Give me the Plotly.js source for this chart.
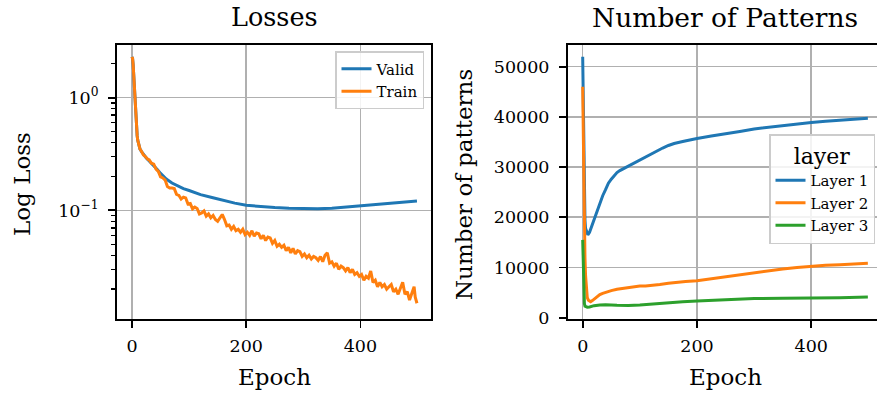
<!DOCTYPE html>
<html><head><meta charset="utf-8">
<script src="https://cdn.plot.ly/plotly-3.0.1.min.js"></script>
<style>html,body{margin:0;padding:0;background:#fff}</style>
</head><body><div id="chart" style="width:877px;height:396px"></div>
<script>
// ---- Left panel: losses ----
const validEpoch = [0,1,2,3,4,5,6,7,8,9,10,12,14,17,20,25,30,35,40,45,50,60,70,80,90,100,120,140,160,180,200,225,250,275,300,325,350,375,400,425,450,475,499];
const validLoss  = [2.3,2.22,1.95,1.55,1.22,0.98,0.79,0.64,0.53,0.46,0.42,0.375,0.35,0.33,0.312,0.292,0.275,0.26,0.245,0.228,0.213,0.19,0.175,0.164,0.156,0.15,0.138,0.13,0.122,0.116,0.111,0.108,0.106,0.1045,0.1035,0.1035,0.1045,0.107,0.11,0.113,0.116,0.119,0.121];

const trainEpoch = [0,1,2,3,4,5,6,7,8,9,10,12,14,16,18,20,22,24,26,28,
  30,34,38,42,46,50,54,58,62,66,70,74,78,82,86,90,94,98,102,106,110,114,118,122,126,130,134,138,142,146,150,154,158,162,166,170,174,178,182,186,190,194,198,
  202,206,210,214,218,222,226,230,234,238,242,246,250,254,258,262,266,270,274,278,282,286,290,294,298,
  302,306,310,314,318,322,326,330,334,338,342,346,350,354,358,362,366,370,374,378,382,386,390,394,398,
  402,406,410,414,418,422,426,430,434,438,442,446,450,454,458,462,466,470,474,478,482,486,490,494,496,498,499];
const trainLoss = [2.3,2.22,1.95,1.55,1.22,0.98,0.79,0.64,0.53,0.46,0.42,0.375,0.35,0.338,0.322,0.31,0.305,0.296,0.292,0.283,
  0.281,0.262,0.257,0.232,0.222,0.198,0.194,0.186,0.163,0.158,0.158,0.156,0.139,0.136,0.126,0.131,0.129,0.114,0.115,0.103,0.107,0.104,0.093,0.095,0.099,0.089,0.093,0.086,0.090,0.083,0.080,0.085,0.092,0.083,0.073,0.074,0.068,0.072,0.066,0.068,0.064,0.068,0.061,
  0.064,0.060,0.066,0.059,0.063,0.062,0.056,0.060,0.054,0.058,0.057,0.051,0.054,0.048,0.050,0.047,0.049,0.044,0.047,0.042,0.046,0.041,0.044,0.043,0.039,
  0.041,0.038,0.040,0.037,0.039,0.038,0.036,0.039,0.035,0.040,0.042,0.034,0.035,0.032,0.034,0.030,0.032,0.031,0.029,0.031,0.028,0.030,0.027,0.028,0.026,
  0.027,0.024,0.026,0.025,0.029,0.023,0.024,0.021,0.023,0.021,0.022,0.020,0.021,0.022,0.019,0.020,0.018,0.020,0.023,0.018,0.019,0.016,0.018,0.021,0.017,0.0155,0.015];

// ---- Right panel: number of patterns ----
const l1Epoch = [0,1,2,3,4,5,7,9,12,16,20,25,30,35,40,45,50,55,60,65,70,80,90,100,110,120,130,140,150,160,175,190,200,225,250,275,300,325,350,375,400,425,450,475,499];
const l1Count = [52000,42000,30000,23000,19500,17800,16900,16500,17000,18300,19700,21500,23000,24300,25500,26800,27600,28300,28900,29300,29600,30200,30900,31500,32100,32700,33300,33800,34300,34700,35100,35500,35700,36200,36600,37100,37600,37950,38300,38600,38900,39150,39400,39600,39750];
const l2Epoch = [0,1,2,3,4,5,6,7,8,10,12,14,17,20,25,30,35,40,50,60,70,80,90,100,110,120,135,150,165,180,200,225,250,275,300,325,350,375,400,425,450,475,499];
const l2Count = [46000,35000,25000,17000,12000,8500,6000,4800,4000,3500,3250,3200,3400,3700,4200,4600,4850,5050,5400,5650,5850,6050,6200,6300,6300,6400,6600,6850,7050,7200,7350,7750,8200,8600,8950,9350,9700,10000,10250,10450,10550,10700,10850];
const l3Epoch = [0,1,2,3,4,6,8,12,16,20,30,40,60,80,100,125,150,175,200,225,250,275,300,350,400,450,499];
const l3Count = [15500,9000,4500,2800,2300,2150,2100,2150,2300,2400,2550,2600,2500,2450,2550,2800,3050,3200,3350,3500,3650,3750,3800,3850,3850,3950,4100];

const seriesNames = ['Valid','Train','Layer 1','Layer 2','Layer 3'];
const colors = ['#1f77b4','#ff7f0e','#2ca02c'];
const xTicks = [0,200,400];
const logTickVals = [0.1, 1];
const logTickText = ['10<sup>\u22121</sup>','10<sup>0</sup>'];
const logMinor = [0.02,0.03,0.04,0.05,0.06,0.07,0.08,0.09,0.2,0.3,0.4,0.5,0.6,0.7,0.8,0.9,2];
const countTicks = [0,10000,20000,30000,40000,50000];
const countTickText = ['0','10000','20000','30000','40000','50000'];

const W = 877, H = 396;
const px = v => v / W, py = v => 1 - v / H;
const FONT = '"DejaVu Serif", "Liberation Serif", serif';
const LW = 3;

const traces = [
  {x: validEpoch, y: validLoss, name: seriesNames[0], type:'scatter', mode:'lines', line:{color:colors[0], width:LW}, xaxis:'x', yaxis:'y', legend:'legend'},
  {x: trainEpoch, y: trainLoss, name: seriesNames[1], type:'scatter', mode:'lines', line:{color:colors[1], width:LW}, xaxis:'x', yaxis:'y', legend:'legend'},
  {x: l1Epoch, y: l1Count, name: seriesNames[2], type:'scatter', mode:'lines', line:{color:colors[0], width:LW}, xaxis:'x2', yaxis:'y2', legend:'legend2'},
  {x: l2Epoch, y: l2Count, name: seriesNames[3], type:'scatter', mode:'lines', line:{color:colors[1], width:LW}, xaxis:'x2', yaxis:'y2', legend:'legend2'},
  {x: l3Epoch, y: l3Count, name: seriesNames[4], type:'scatter', mode:'lines', line:{color:colors[2], width:LW}, xaxis:'x2', yaxis:'y2', legend:'legend2'}
];

const tickFont = {family: FONT, size: 17.5, color: '#000'};
const common = {
  showline: true, linecolor: '#000', linewidth: 2,
  ticks: 'outside', ticklen: 7, tickwidth: 1.8, tickcolor: '#000',
  showgrid: true, gridcolor: '#b0b0b0', gridwidth: 1.6,
  zeroline: false, tickfont: tickFont, ticklabelstandoff: 6
};
const yDom = [py(318.7), py(44.7)];

const layout = {
  width: W, height: H,
  font: {family: FONT, color: '#000'},
  margin: {l:0, r:0, t:0, b:0},
  paper_bgcolor: '#fff', plot_bgcolor: '#fff',
  showlegend: true,
  xaxis: Object.assign({}, common, {domain:[px(117), px(431)], range:[-26.3, 523.6], tickmode:'array', tickvals: xTicks, ticktext: xTicks.map(String), mirror: true, anchor:'y', ticklabelstandoff: 3}),
  yaxis: Object.assign({}, common, {domain: yDom, type:'log', range:[-1.961, 0.47], tickmode:'array', tickvals: logTickVals, ticktext: logTickText, mirror: true, anchor:'x',
    minor: {tickmode:'array', tickvals: logMinor, ticks:'outside', ticklen:4, tickwidth:1.4, tickcolor:'#000', showgrid:false}}),
  xaxis2: Object.assign({}, common, {domain:[px(568), 1], range:[-25.7, 515], tickmode:'array', tickvals: xTicks, ticktext: xTicks.map(String), mirror: true, anchor:'y2', ticklabelstandoff: 3}),
  yaxis2: Object.assign({}, common, {domain: yDom, range:[-200, 54380], tickmode:'array', tickvals: countTicks, ticktext: countTickText, mirror: false, anchor:'x2'}),
  legend: {x: px(424), xanchor:'right', y: py(51), yanchor:'top', bgcolor:'rgba(255,255,255,0.85)', bordercolor:'#cccccc', borderwidth:1.5,
    font:{family: FONT, size: 15, color:'#000'}, itemwidth: 30},
  legend2: {x: px(875), xanchor:'right', y: py(134), yanchor:'top', bgcolor:'rgba(255,255,255,0.85)', bordercolor:'#cccccc', borderwidth:1.5,
    font:{family: FONT, size: 15, color:'#000'}, itemwidth: 30,
    title:{text:'layer', font:{family: FONT, size: 22, color:'#000'}, side:'top center'}},
  annotations: [
    {text:'Losses', x: px(274), y: py(17), xref:'paper', yref:'paper', xanchor:'center', yanchor:'middle', showarrow:false, font:{family: FONT, size: 25.5, color:'#000'}},
    {text:'Number of Patterns', x: px(725), y: py(17), xref:'paper', yref:'paper', xanchor:'center', yanchor:'middle', showarrow:false, font:{family: FONT, size: 26.5, color:'#000'}},
    {text:'Epoch', x: px(274), y: py(377), xref:'paper', yref:'paper', xanchor:'center', yanchor:'middle', showarrow:false, font:{family: FONT, size: 23, color:'#000'}},
    {text:'Epoch', x: px(725), y: py(377), xref:'paper', yref:'paper', xanchor:'center', yanchor:'middle', showarrow:false, font:{family: FONT, size: 23, color:'#000'}},
    {text:'Log Loss', x: px(22), y: py(184), xref:'paper', yref:'paper', xanchor:'center', yanchor:'middle', textangle:-90, showarrow:false, font:{family: FONT, size: 23, color:'#000'}},
    {text:'Number of patterns', x: px(464), y: py(184), xref:'paper', yref:'paper', xanchor:'center', yanchor:'middle', textangle:-90, showarrow:false, font:{family: FONT, size: 23, color:'#000'}}
  ]
};

Plotly.newPlot('chart', traces, layout, {displayModeBar:false, staticPlot:true});
</script></body></html>
